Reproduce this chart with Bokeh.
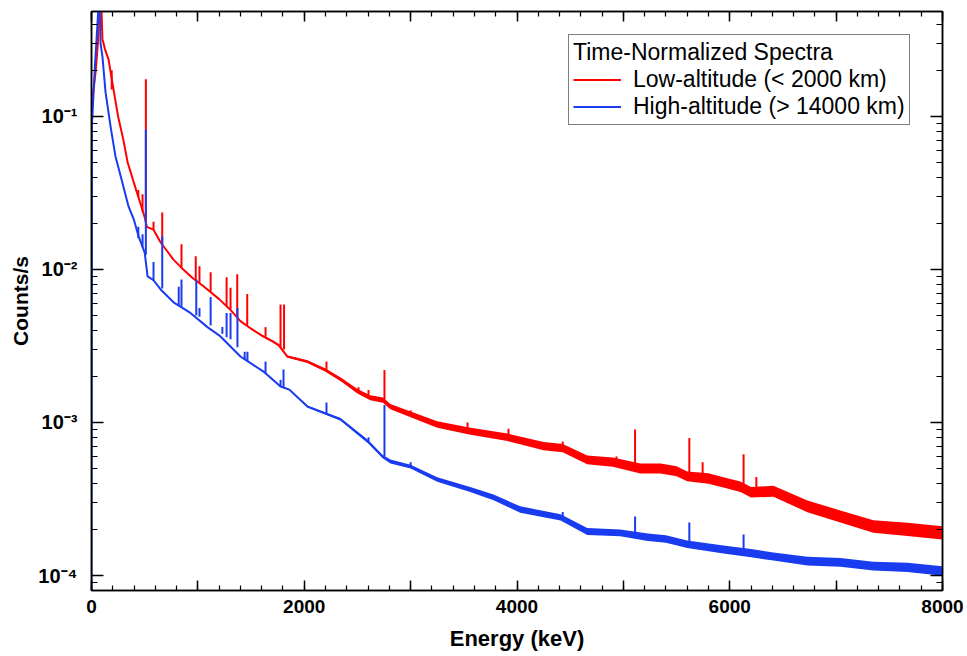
import numpy as np
from bokeh.plotting import figure
from bokeh.models import (LinearAxis, LogAxis, FixedTicker, Legend, LegendItem,
                          Range1d, ColumnDataSource)
from bokeh.embed import file_html
from bokeh.resources import INLINE

# ---------------- data ----------------
# Low-altitude spectrum: continuum (keV, counts/s) and noise-band ratio
red_E = [0, 20, 40, 60, 75, 90, 103, 130, 160, 200,
         250, 300, 340, 420, 460, 500, 520, 583, 650, 700,
         770, 850, 950, 1050, 1200, 1300, 1400, 1500, 1600, 1700,
         1760, 1840, 2030, 2200, 2350, 2500, 2620, 2740, 2810, 3000,
         3250, 3550, 3910, 4250, 4430, 4660, 4900, 5160, 5350, 5500,
         5600, 5800, 5940, 6100, 6200, 6410, 6730, 7040, 7350, 7670,
         8000]
red_y = [0.12, 0.15, 0.2, 0.3, 0.6, 0.6, 0.32, 0.27, 0.236, 0.16,
         0.1, 0.07, 0.05, 0.033, 0.027, 0.0219, 0.019, 0.0182, 0.015, 0.0135,
         0.0116, 0.0102, 0.0088, 0.0078, 0.0064, 0.0055, 0.0046, 0.0041, 0.0037, 0.0034,
         0.0032, 0.0027, 0.0025, 0.0022, 0.0019, 0.0016, 0.00145, 0.0014, 0.00127, 0.00113,
         0.00097, 0.00088, 0.0008, 0.0007, 0.00068, 0.00057, 0.00055, 0.0005, 0.0005, 0.00048,
         0.000444, 0.00043, 0.000406, 0.00038, 0.00035, 0.000355, 0.000283, 0.000243, 0.000209, 0.0002,
         0.00019]
red_spread = [1.0, 1.0, 1.0, 1.0, 1.0, 1.0, 1.0, 1.0, 1.0, 1.0,
              1.0, 1.0, 1.0, 1.0, 1.0, 1.0, 1.0, 1.0, 1.0, 1.0,
              1.0, 1.0, 1.0, 1.0, 1.0, 1.0, 1.0, 1.02, 1.03, 1.03,
              1.03, 1.03, 1.04, 1.05, 1.06, 1.07, 1.08, 1.08, 1.08, 1.09,
              1.1, 1.11, 1.12, 1.13, 1.13, 1.14, 1.15, 1.16, 1.16, 1.16,
              1.16, 1.17, 1.17, 1.17, 1.17, 1.18, 1.19, 1.2, 1.21, 1.22,
              1.22]
# Low-altitude lines: energy, continuum under the line, top of the line
red_peak_E = [190, 440, 480, 511, 583, 665, 846, 980, 1015, 1120,
              1270, 1307, 1370, 1464, 1636, 1777, 1810, 2209, 2510, 2604,
              2754, 3000, 3535, 3920, 4430, 4935, 5110, 5620, 5745, 6130,
              6250]
red_peak_base = [0.15, 0.03, 0.024, 0.021, 0.0182, 0.0145, 0.0102, 0.0085, 0.0082, 0.0072,
                 0.0058, 0.0055, 0.0049, 0.0043, 0.0036, 0.0031, 0.003, 0.0022, 0.0016, 0.00147,
                 0.0014, 0.00113, 0.00088, 0.0008, 0.00068, 0.00055, 0.0005, 0.00044, 0.00043, 0.00038,
                 0.00035]
red_peak_top = [0.2, 0.033, 0.031, 0.175, 0.0205, 0.0236, 0.0146, 0.0122, 0.0105, 0.0096,
                0.0089, 0.0076, 0.0093, 0.0069, 0.0042, 0.0059, 0.0059, 0.0025, 0.0017, 0.00163,
                0.0022, 0.0012, 0.001, 0.00091, 0.00075, 0.0006, 0.0009, 0.00079, 0.00055, 0.00062,
                0.00044]

# High-altitude spectrum
blue_E = [0, 5, 30, 60, 75, 85, 103, 132, 179, 225,
          290, 348, 400, 442, 500, 527, 583, 650, 771, 930,
          1090, 1213, 1400, 1617, 1777, 1860, 2030, 2340, 2600, 2735,
          2810, 3000, 3250, 3560, 3780, 4030, 4410, 4660, 4970, 5230,
          5400, 5600, 5940, 6200, 6410, 6730, 7040, 7350, 7670, 8000]
blue_y = [8e-5, 0.09, 0.2, 0.45, 0.6, 0.3, 0.246, 0.144, 0.086, 0.055,
          0.037, 0.0258, 0.021, 0.0165, 0.0129, 0.009, 0.0085, 0.0074, 0.0061, 0.0052,
          0.0042, 0.00365, 0.0027, 0.00215, 0.00172, 0.00164, 0.00127, 0.00105, 0.00075, 0.0006,
          0.000556, 0.000515, 0.000424, 0.000365, 0.000324, 0.00027, 0.00024, 0.000194, 0.00019, 0.000178,
          0.000173, 0.00016, 0.000148, 0.00014, 0.000133, 0.000124, 0.000122, 0.000115, 0.000113, 0.000107]
blue_spread = [1.0, 1.0, 1.0, 1.0, 1.0, 1.0, 1.0, 1.0, 1.0, 1.0,
               1.0, 1.0, 1.0, 1.0, 1.0, 1.0, 1.0, 1.0, 1.0, 1.0,
               1.0, 1.0, 1.0, 1.02, 1.02, 1.02, 1.03, 1.04, 1.05, 1.05,
               1.06, 1.06, 1.07, 1.08, 1.09, 1.1, 1.1, 1.11, 1.11, 1.12,
               1.12, 1.12, 1.13, 1.13, 1.13, 1.14, 1.14, 1.14, 1.15, 1.15]
blue_peak_E = [440, 480, 511, 583, 665, 820, 846, 985, 1015, 1120,
               1230, 1270, 1307, 1372, 1440, 1466, 1636, 1777, 1805, 2209,
               2604, 2754, 3000, 4430, 5110, 5620, 6130]
blue_peak_base = [0.016, 0.014, 0.0125, 0.0085, 0.0075, 0.0058, 0.0057, 0.005, 0.0049, 0.0043,
                  0.0038, 0.0036, 0.0035, 0.0031, 0.0026, 0.0025, 0.0021, 0.00172, 0.0017, 0.00115,
                  0.00075, 0.0006, 0.000515, 0.00024, 0.00018, 0.00016, 0.00014]
blue_peak_top = [0.019, 0.017, 0.082, 0.0112, 0.0165, 0.0077, 0.0086, 0.0086, 0.0056, 0.0066,
                 0.0042, 0.0052, 0.0052, 0.0056, 0.0029, 0.0029, 0.0025, 0.0019, 0.00222, 0.00135,
                 0.0008, 0.0013, 0.00055, 0.00026, 0.000243, 0.000222, 0.000185]

x_ticks = [0, 1000, 2000, 3000, 4000, 5000, 6000, 7000, 8000]
x_labels = {0: "0", 1000: "", 2000: "2000", 3000: "", 4000: "4000",
            5000: "", 6000: "6000", 7000: "", 8000: "8000"}
y_ticks = [1e-4, 1e-3, 1e-2, 1e-1]
y_labels = {1e-4: "10\u207b\u2074", 1e-3: "10\u207b\u00b3",
            1e-2: "10\u207b\u00b2", 1e-1: "10\u207b\u00b9"}

RED = "#ff0000"
BLUE = "#1a3cf0"
FONT = "Liberation Sans"

# ---------------- figure ----------------
p = figure(width=967, height=656, x_range=Range1d(0, 8000),
           y_range=Range1d(7.98e-5, 0.485), y_axis_type="log",
           output_backend="svg", toolbar_location=None,
           min_border_left=91, min_border_right=25, min_border_top=11,
           min_border_bottom=66)
p.xgrid.visible = False
p.ygrid.visible = False
p.outline_line_color = "black"
p.outline_line_width = 1.5
p.background_fill_color = "white"
p.border_fill_color = "white"


def band(E, y, s):
    y = np.asarray(y, dtype=float)
    s = np.sqrt(np.asarray(s, dtype=float))
    return ColumnDataSource(dict(x=E, y=y, lo=y / s, hi=y * s))


red_src = band(red_E, red_y, red_spread)
blue_src = band(blue_E, blue_y, blue_spread)

p.varea(x="x", y1="lo", y2="hi", source=red_src, fill_color=RED)
red_line = p.line(x="x", y="y", source=red_src, line_color=RED, line_width=2)
p.segment(x0=red_peak_E, y0=red_peak_base, x1=red_peak_E, y1=red_peak_top,
          line_color=RED, line_width=2)

p.varea(x="x", y1="lo", y2="hi", source=blue_src, fill_color=BLUE)
blue_line = p.line(x="x", y="y", source=blue_src, line_color=BLUE, line_width=2)
p.segment(x0=blue_peak_E, y0=blue_peak_base, x1=blue_peak_E, y1=blue_peak_top,
          line_color=BLUE, line_width=2)

# ---------------- axes ----------------
xt = FixedTicker(ticks=x_ticks, minor_ticks=list(range(0, 8001, 200)))
yminor = [k * 10.0 ** e for e in range(-5, 0) for k in range(2, 10)]
yt = FixedTicker(ticks=y_ticks, minor_ticks=yminor)


def style(ax):
    ax.axis_line_color = "black"
    ax.axis_line_width = 1.5
    ax.major_tick_line_color = "black"
    ax.minor_tick_line_color = "black"
    ax.major_tick_line_width = 1.5
    ax.minor_tick_line_width = 1.2
    ax.major_tick_out = 0
    ax.minor_tick_out = 0
    ax.major_label_text_font = FONT
    ax.major_label_text_font_style = "bold"
    ax.major_label_text_font_size = "19px"
    ax.major_label_text_color = "black"
    ax.axis_label_text_font = FONT
    ax.axis_label_text_font_style = "bold"
    ax.axis_label_text_color = "black"


xa = p.xaxis[0]
xa.ticker = xt
style(xa)
xa.major_tick_in = 10
xa.minor_tick_in = 5
xa.major_label_overrides = x_labels
xa.major_label_standoff = 9
xa.axis_label = "Energy (keV)"
xa.axis_label_text_font_size = "22px"
xa.axis_label_standoff = 10

ya = p.yaxis[0]
ya.ticker = yt
style(ya)
ya.major_tick_in = 12
ya.minor_tick_in = 6
ya.major_label_overrides = y_labels
ya.major_label_text_font_size = "20px"
ya.major_label_standoff = 14
ya.axis_label = "Counts/s"
ya.axis_label_text_font_size = "21px"
ya.axis_label_standoff = 3

top = LinearAxis(ticker=xt)
style(top)
top.major_tick_in = 10
top.minor_tick_in = 5
top.major_label_text_font_size = "1px"
top.major_label_text_color = None
top.major_label_standoff = 0
p.add_layout(top, "above")

right = LogAxis(ticker=yt)
style(right)
right.major_tick_in = 12
right.minor_tick_in = 6
right.major_label_text_font_size = "1px"
right.major_label_text_color = None
right.major_label_standoff = 0
p.add_layout(right, "right")

# ---------------- legend ----------------
legend = Legend(
    items=[LegendItem(label="Low-altitude (< 2000 km)", renderers=[red_line]),
           LegendItem(label="High-altitude (> 14000 km)", renderers=[blue_line])],
    title="Time-Normalized Spectra",
    location=(477, 465),
    margin=0, padding=4, spacing=0,
    glyph_width=48, glyph_height=25, label_height=25, label_standoff=12,
    title_standoff=0,
    border_line_color="black", border_line_width=1.5,
    background_fill_color="white", background_fill_alpha=1.0,
    label_text_font=FONT, label_text_font_size="23px", label_text_color="black",
    title_text_font=FONT, title_text_font_size="23px", title_text_color="black",
    title_text_font_style="normal",
)
p.add_layout(legend)

open("out.html", "w").write(file_html(p, INLINE))
